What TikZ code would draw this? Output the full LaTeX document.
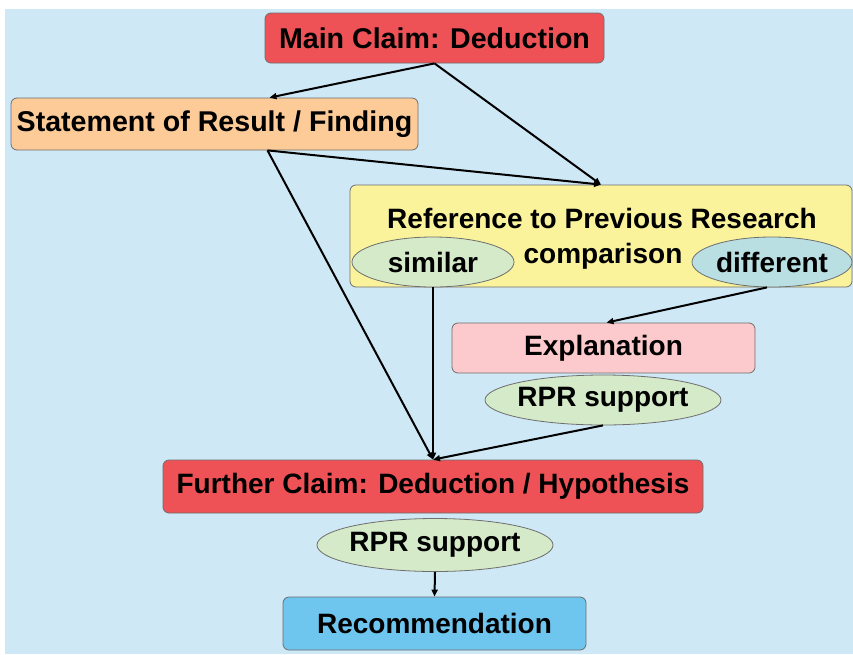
\documentclass[tikz,border=0pt]{standalone}
\usepackage{fontspec}
\setmainfont{Liberation Sans}
\usetikzlibrary{shapes.geometric,arrows.meta}
\definecolor{bg}{HTML}{CEE8F6}
\definecolor{redbox}{HTML}{EE5256}
\definecolor{orangebox}{HTML}{FCCB97}
\definecolor{yellowbox}{HTML}{FAF39B}
\definecolor{greenell}{HTML}{D4EAC8}
\definecolor{tealell}{HTML}{B9DFE3}
\definecolor{pinkbox}{HTML}{FCC9CC}
\definecolor{bluebox}{HTML}{6EC6EF}
\definecolor{edgegray}{HTML}{6E6E6E}
\newcommand{\bigtxt}{\bfseries\fontsize{28}{32}\selectfont}
\newcommand{\toptxt}{\bfseries\fontsize{28.6}{32}\selectfont}
\tikzset{
  boxstyle/.style={draw=edgegray, line width=0.8pt, rounded corners=6pt, inner sep=0pt, font=\bigtxt},
  ellstyle/.style={ellipse, draw=edgegray, line width=0.8pt, inner xsep=-3pt, inner ysep=0pt, font=\bigtxt},
  conn/.style={-{Triangle[length=7pt,width=6pt]}, line width=2pt, black}
}
\begin{document}
\begin{tikzpicture}[x=1pt,y=-1pt]
\useasboundingbox (0,0) rectangle (853,654);
\fill[white] (0,0) rectangle (853,654);
\fill[bg] (5,9) rectangle (853,654);

\node[boxstyle, fill=redbox, minimum width=339pt, minimum height=50pt, font=\toptxt] (main) at (434.5,38) {Main Claim: Deduction};

\node[boxstyle, fill=orangebox, minimum width=407pt, minimum height=52pt, font=\toptxt] (stmt) at (214.5,124) {Statement of Result / Finding};

\node[boxstyle, fill=yellowbox, minimum width=502pt, minimum height=102pt] (ref) at (601,236) {};
\node[font=\bigtxt, inner sep=0pt] (reftitle) at (602,218) {Reference to Previous Research};
\node[font=\bigtxt, inner sep=0pt] (comp) at (603,256) {comparison};

\node[ellstyle, fill=greenell, minimum width=162pt, minimum height=50pt] (sim) at (433,262) {similar};
\node[ellstyle, fill=tealell, minimum width=160pt, minimum height=50pt] (diff) at (772,262) {different};

\node[boxstyle, fill=pinkbox, minimum width=303pt, minimum height=50pt] (expl) at (603.5,348) {Explanation};
\node[ellstyle, fill=greenell, minimum width=236pt, minimum height=50pt] (rpr1) at (603,400) {RPR support};

\node[boxstyle, fill=redbox, minimum width=540pt, minimum height=53pt] (further) at (433,486.5) {Further Claim: Deduction / Hypothesis};
\node[ellstyle, fill=greenell, minimum width=236pt, minimum height=53pt] (rpr2) at (435,545) {RPR support};

\node[boxstyle, fill=bluebox, minimum width=303pt, minimum height=53pt] (rec) at (434.5,623.5) {Recommendation};

\draw[conn] (main.south) -- ([xshift=55pt]stmt.north);
\draw[conn] (main.south) -- (ref.north);
\draw[conn] ([xshift=53pt]stmt.south) -- (ref.north);
\draw[conn] ([xshift=53pt]stmt.south) -- (further.north);
\draw[conn] (sim.south) -- (further.north);
\draw[conn] ([xshift=-5pt]diff.south) -- ([xshift=3pt]expl.north);
\draw[conn] (rpr1.south) -- (further.north);
\draw[conn] (rpr2.south) -- (rec.north);
\end{tikzpicture}
\end{document}
